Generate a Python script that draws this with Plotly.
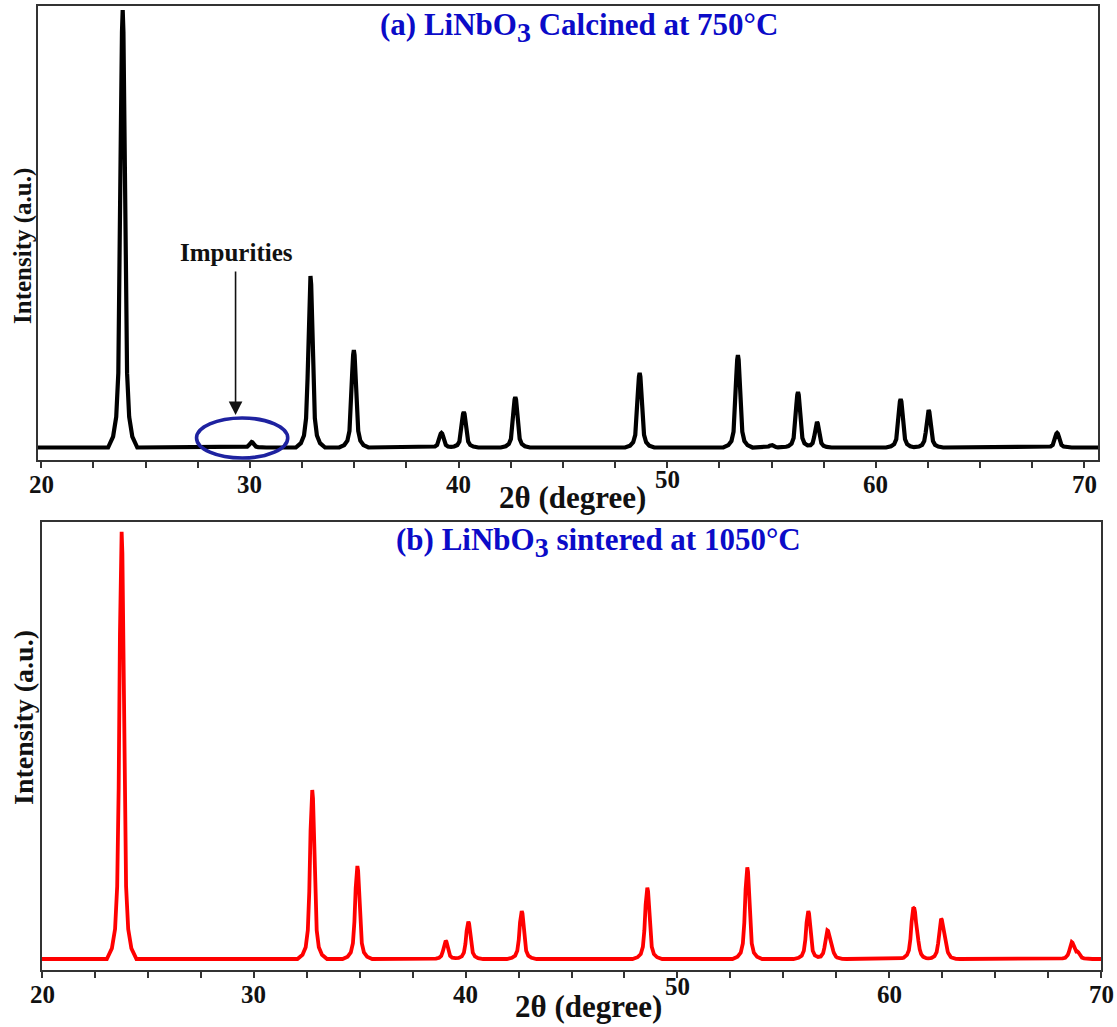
import numpy as np
import plotly.graph_objects as go

# ---- data -------------------------------------------------------------
# 2-theta window of each panel (degrees)
RANGE_A = (19.84, 70.65)
RANGE_B = (20.0, 70.0)

# (a) powder calcined at 750 C: reflection positions and peak-top intensities
PEAKS_A_POS = [23.90, 30.08, 32.90, 34.98, 39.18, 40.25, 42.72, 48.68, 53.39,
               55.00, 56.27, 57.18, 61.19, 62.53, 68.69]
PEAKS_A_INT = [4500, 180, 1840, 1100, 270, 480, 630, 870, 1050,
               150, 680, 380, 610, 500, 270]
BASELINE_A = 125

# (b) ceramic sintered at 1050 C (high-angle lines show their K-alpha2 shoulder)
PEAKS_B_POS = [23.76, 32.76, 34.89, 39.06, 40.13, 42.65, 48.58, 53.30, 56.18,
               57.08, 57.28, 61.14, 61.30, 62.45, 62.64, 68.62, 68.89]
PEAKS_B_INT = [4383, 1800, 1040, 293, 483, 590, 823, 1027, 590,
               383, 180, 577, 260, 490, 205, 273, 170]
BASELINE_B = 110

# normalised line profile of a single reflection (offset in degrees, relative height)
PEAK_OFFSETS = [-0.70, -0.46, -0.31, -0.21, -0.14, -0.08, -0.035, 0.0,
                0.035, 0.08, 0.14, 0.21, 0.31, 0.46, 0.70]
PEAK_SHAPE = [0.0, 0.025, 0.07, 0.17, 0.40, 0.76, 0.95, 1.0,
              0.95, 0.76, 0.40, 0.17, 0.07, 0.025, 0.0]

# axis ticks
MINOR_TICKS = [20, 22.5, 25, 27.5, 30, 32.5, 35, 37.5, 40, 42.5, 45, 47.5,
               50, 52.5, 55, 57.5, 60, 62.5, 65, 67.5, 70]
TICK_POS = [20, 30, 40, 50, 60, 70]
TICK_TEXT = ["20", "30", "40", "50", "60", "70"]

FONT = "Liberation Serif"
BLUE = "#0B0BC8"
FRAME = "#333333"
INK = "#111111"


def pattern(pos, inten, base, lo, hi):
    """Diffractogram built from the listed reflections on top of a flat background."""
    knots = [lo, hi] + [c + d for c in pos for d in PEAK_OFFSETS]
    x = np.unique(np.clip(knots, lo, hi))
    y = np.full(x.shape, float(base))
    for c, i in zip(pos, inten):
        y += (i - base) * np.interp(x - c, PEAK_OFFSETS, PEAK_SHAPE, left=0.0, right=0.0)
    return x, y


xa, ya = pattern(PEAKS_A_POS, PEAKS_A_INT, BASELINE_A, *RANGE_A)
xb, yb = pattern(PEAKS_B_POS, PEAKS_B_INT, BASELINE_B, *RANGE_B)

fig = go.Figure()
fig.add_trace(go.Scatter(x=xa, y=ya, mode="lines", xaxis="x", yaxis="y",
                         line=dict(color="#000000", width=4.2), hoverinfo="skip"))
fig.add_trace(go.Scatter(x=xb, y=yb, mode="lines", xaxis="x2", yaxis="y2",
                         line=dict(color="#FF0000", width=3.8), hoverinfo="skip"))

W, H = 1117, 1027


def xaxis_cfg(domain, rng, anchor):
    return dict(domain=domain, range=list(rng), tickmode="array", tickvals=MINOR_TICKS,
                showticklabels=False, ticks="outside", ticklen=6, tickwidth=2,
                tickcolor=FRAME, showline=True, linecolor=FRAME, linewidth=2,
                mirror=True, showgrid=False, zeroline=False, fixedrange=True,
                anchor=anchor)


def yaxis_cfg(domain, rng, anchor):
    return dict(domain=domain, range=list(rng), showticklabels=False, ticks="",
                showline=True, linecolor=FRAME, linewidth=2, mirror=True,
                showgrid=False, zeroline=False, anchor=anchor, fixedrange=True)


def label(x, y, text, size, color=INK, xref="paper", yref="paper", angle=0):
    return dict(x=x, y=y, xref=xref, yref=yref, text=text, showarrow=False,
                xanchor="center", yanchor="middle", textangle=angle,
                font=dict(family=FONT, size=size, color=color))


annotations = []

# tick labels (the "50" sits a little higher next to the axis title)
for xref, y_norm, y_fifty in (("x", 1 - 484 / H, 1 - 479 / H), ("x2", 1 - 994 / H, 1 - 986 / H)):
    for p, t in zip(TICK_POS, TICK_TEXT):
        annotations.append(label(p, y_fifty if p == 50 else y_norm, f"<b>{t}</b>", 25, xref=xref))

# axis titles
annotations += [
    label(572 / W, 1 - 497 / H, "<b>2θ (degree)</b>", 31),
    label(588 / W, 1 - 1006 / H, "<b>2θ (degree)</b>", 31),
    label(23 / W, 1 - 246 / H, "<b>Intensity (a.u.)</b>", 25, angle=-90),
    label(23 / W, 1 - 718 / H, "<b>Intensity (a.u.)</b>", 28, angle=-90),
]

# panel captions
annotations += [
    label(579 / W, 1 - 27 / H,
          "<b>(a) LiNbO<sub><span style='font-size:28px'>3</span></sub> Calcined at 750°C</b>",
          31, color=BLUE),
    label(598 / W, 1 - 542 / H,
          "<b>(b) LiNbO<sub><span style='font-size:28px'>3</span></sub> sintered at 1050°C</b>",
          31, color=BLUE),
]

# impurity marker: label and arrow pointing at the weak reflection near 30°
annotations += [
    label(29.36, 2080, "<b>Impurities</b>", 25, xref="x", yref="y"),
    dict(x=29.31, y=450, xref="x", yref="y", text="", showarrow=True, ax=0, ay=-145,
         axref="pixel", ayref="pixel", arrowhead=2, arrowsize=1.7, arrowwidth=1.6,
         arrowcolor=INK),
]

shapes = [
    dict(type="circle", xref="x", yref="y", x0=27.44, x1=31.81, y0=20, y1=420,
         line=dict(color="#1E22A0", width=3.6), fillcolor="rgba(0,0,0,0)"),
]

fig.update_layout(
    width=W, height=H,
    margin=dict(l=0, r=0, t=0, b=0),
    paper_bgcolor="white", plot_bgcolor="white",
    showlegend=False,
    xaxis=xaxis_cfg([38 / W, 1098 / W], RANGE_A, "y"),
    yaxis=yaxis_cfg([1 - 460 / H, 1 - 6 / H], (0, 4540), "x"),
    xaxis2=xaxis_cfg([42 / W, 1101 / W], RANGE_B, "y2"),
    yaxis2=yaxis_cfg([1 - 970 / H, 1 - 522 / H], (0, 4480), "x2"),
    annotations=annotations,
    shapes=shapes,
)

fig.write_html("out.html")
